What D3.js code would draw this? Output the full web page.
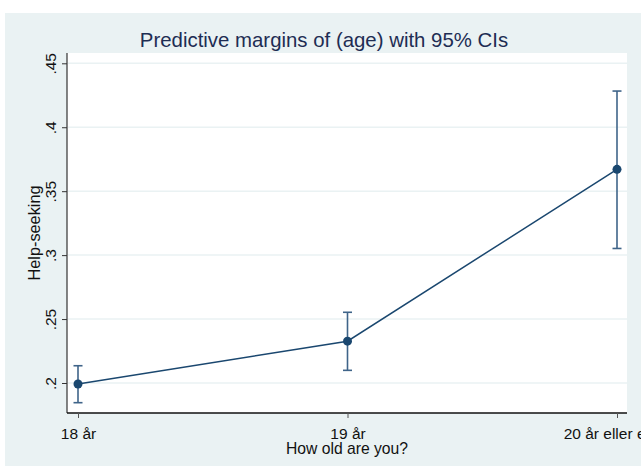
<!DOCTYPE html>
<html>
<head>
<meta charset="utf-8">
<script src="https://cdn.jsdelivr.net/npm/d3@7"></script>
<style>
  html, body { margin: 0; padding: 0; background: #ffffff; }
  svg { display: block; font-family: "Liberation Sans", Arial, sans-serif; }
</style>
</head>
<body>
<svg id="chart" width="641" height="469"></svg>
<script>
// Predictive margins of age group with 95% confidence intervals
const categories = ["18 år", "19 år", "20 år eller eldre"];
const margins    = [0.1992, 0.2327, 0.3671];
const ciLower    = [0.1846, 0.2099, 0.3052];
const ciUpper    = [0.2135, 0.2553, 0.4283];
const yTicks     = [0.2, 0.25, 0.3, 0.35, 0.4, 0.45];

const svg = d3.select("#chart");
const W = 641, H = 469;
const FONT = "'Liberation Sans', Arial, sans-serif";

// Outer graph region
svg.append("rect")
  .attr("x", 5).attr("y", 13).attr("width", W - 5).attr("height", 453)
  .attr("fill", "#eaf2f3");

// Plot region
const plot = { left: 67, right: 627, top: 53, bottom: 413 };
svg.append("rect")
  .attr("x", plot.left).attr("y", plot.top)
  .attr("width", plot.right - plot.left).attr("height", plot.bottom - plot.top)
  .attr("fill", "#ffffff");

const x = d3.scalePoint().domain(categories).range([78, 617]).padding(0);
const y = d3.scaleLinear().domain([0.2, 0.45]).range([383, 63.3]);

// Grid lines
svg.append("g").selectAll("line").data(yTicks).join("line")
  .attr("x1", plot.left + 1).attr("x2", plot.right)
  .attr("y1", d => y(d)).attr("y2", d => y(d))
  .attr("stroke", "#eaf2f3").attr("stroke-width", 1.5);

const fmt = d => d3.format(".2~f")(d).replace(/^0/, "");

// Y axis
const yAxis = svg.append("g")
  .attr("transform", `translate(${plot.left},0)`)
  .call(d3.axisLeft(y).tickValues(yTicks).tickSize(5).tickFormat(fmt));
yAxis.select(".domain").attr("d", `M0,${plot.top}V${plot.bottom}`)
  .attr("stroke", "#333").attr("stroke-width", 1.2);
yAxis.selectAll(".tick line").attr("stroke", "#333").attr("stroke-width", 1);
yAxis.selectAll(".tick text")
  .attr("x", null).attr("dy", null)
  .attr("transform", "translate(-11,0) rotate(-90)")
  .attr("text-anchor", "middle")
  .attr("font-size", 15.5).attr("fill", "#111")
  .attr("font-family", FONT);

// X axis
const xAxis = svg.append("g")
  .attr("transform", `translate(0,${plot.bottom})`)
  .call(d3.axisBottom(x).tickSize(5));
xAxis.select(".domain").attr("d", `M${plot.left},0H${plot.right}`)
  .attr("stroke", "#111").attr("stroke-width", 1.5);
xAxis.selectAll(".tick line").attr("stroke", "#555").attr("stroke-width", 1);
xAxis.selectAll(".tick text")
  .attr("y", 25.5).attr("dy", null)
  .attr("font-size", 15.5).attr("fill", "#111")
  .attr("font-family", FONT);

// Axis titles
svg.append("text")
  .attr("x", (plot.left + plot.right) / 2).attr("y", 454)
  .attr("text-anchor", "middle").attr("font-size", 15.7).attr("fill", "#111")
  .text("How old are you?");
svg.append("text")
  .attr("transform", `translate(39.5,${(plot.top + plot.bottom) / 2}) rotate(-90)`)
  .attr("text-anchor", "middle").attr("font-size", 16.3).attr("fill", "#111")
  .text("Help-seeking");

// Title
svg.append("text")
  .attr("x", 324).attr("y", 47)
  .attr("text-anchor", "middle").attr("font-size", 20.4).attr("fill", "#1e2d53")
  .text("Predictive margins of (age) with 95% CIs");

// Data
const rows = categories.map((c, i) => ({ c, m: margins[i], lo: ciLower[i], hi: ciUpper[i] }));
const ink = "#1a476f";

// Confidence intervals
const ci = svg.append("g").attr("stroke", "#3f6489").attr("stroke-width", 1.6).attr("fill", "none");
ci.selectAll("line.v").data(rows).join("line").attr("class", "v")
  .attr("x1", d => x(d.c)).attr("x2", d => x(d.c))
  .attr("y1", d => y(d.lo)).attr("y2", d => y(d.hi));
ci.selectAll("line.lo").data(rows).join("line").attr("class", "lo")
  .attr("x1", d => x(d.c) - 4.5).attr("x2", d => x(d.c) + 4.5)
  .attr("y1", d => y(d.lo)).attr("y2", d => y(d.lo));
ci.selectAll("line.hi").data(rows).join("line").attr("class", "hi")
  .attr("x1", d => x(d.c) - 4.5).attr("x2", d => x(d.c) + 4.5)
  .attr("y1", d => y(d.hi)).attr("y2", d => y(d.hi));

// Connecting line
svg.append("path").datum(rows)
  .attr("d", d3.line().x(d => x(d.c)).y(d => y(d.m)))
  .attr("fill", "none").attr("stroke", ink).attr("stroke-width", 1.5);

// Markers
svg.append("g").selectAll("circle").data(rows).join("circle")
  .attr("cx", d => x(d.c)).attr("cy", d => y(d.m)).attr("r", 4.5)
  .attr("fill", ink);
</script>
</body>
</html>
